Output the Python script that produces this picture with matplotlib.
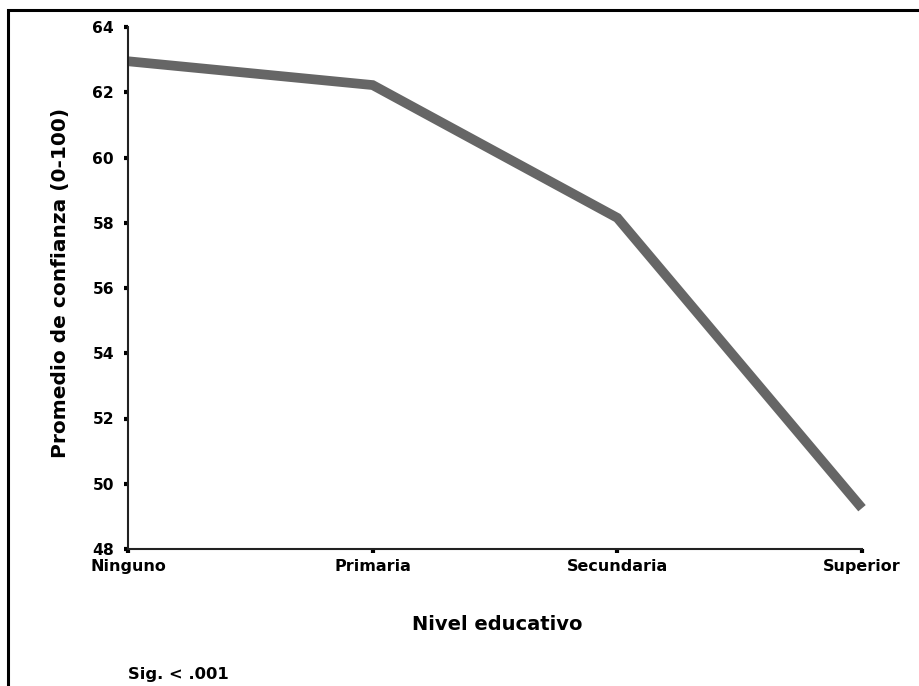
import matplotlib
matplotlib.use("Agg")
import matplotlib.pyplot as plt
from matplotlib.patches import Rectangle

categories = ["Ninguno", "Primaria", "Secundaria", "Superior"]
values = [62.95, 62.22, 58.15, 49.25]
yticks = [48, 50, 52, 54, 56, 58, 60, 62, 64]

plt.rcParams['font.family'] = ['DejaVu Sans']
plt.rcParams['font.weight'] = 'bold'

fig = plt.figure(figsize=(9.2, 6.86), dpi=100)
ax = fig.add_axes([128/920, 1-549/686, (862-128)/920, (549-27)/686])

x = list(range(len(categories)))
ax.plot(x, values, color='#666666', linewidth=7, solid_joinstyle='miter', solid_capstyle='butt', clip_on=False)

ax.set_xlim(0, 3)
ax.set_ylim(48, 64)
ax.set_yticks(yticks)
ax.set_yticklabels([str(t) for t in yticks], fontsize=11.2, fontweight='bold')
ax.set_xticks(x)
ax.set_xticklabels(categories, fontsize=11.5, fontweight='bold')
ax.tick_params(axis='both', direction='out', length=3, width=3, color='black')
ax.tick_params(axis='y', pad=7)
ax.tick_params(axis='x', pad=4)
for s in ['top', 'right']:
    ax.spines[s].set_visible(False)
for s in ['left', 'bottom']:
    ax.spines[s].set_linewidth(1.5)
    ax.spines[s].set_color('#222222')

fig.text(61/920, 1-283/686, "Promedio de confianza (0-100)", rotation=90, ha='center', va='center',
         fontsize=14.5, fontweight='bold')
fig.text(497/920, 1-624/686, "Nivel educativo", ha='center', va='center', fontsize=14, fontweight='bold')
fig.text(128/920, 1-674/686, "Sig. < .001", ha='left', va='center', fontsize=11.8, fontweight='bold')

frame = Rectangle((8/920, -0.1), 1.2, 1.1 - 10/686, transform=fig.transFigure,
                  fill=False, edgecolor='black', linewidth=2.2)
fig.patches.append(frame)

fig.savefig("out.png", dpi=100)
